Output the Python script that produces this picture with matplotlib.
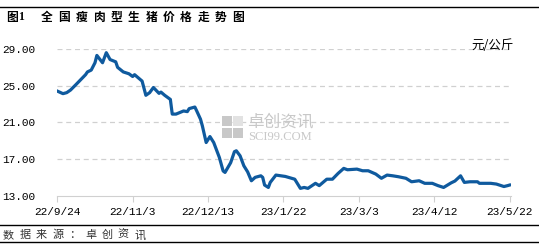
import pandas as pd
import matplotlib
matplotlib.use('Agg')
from matplotlib import pyplot as plt
from matplotlib.patches import Rectangle
from matplotlib.lines import Line2D

plt.rcParams['font.family'] = ['Noto Sans CJK SC', 'DejaVu Sans']

# days after 2022-09-24 and price (元/公斤)
days = [0, 3, 5, 7, 10, 15, 16, 18, 20, 21, 24, 26, 28, 31, 32, 35, 38, 40, 41,
        43, 45, 47, 49, 51, 54, 55, 57, 60, 61, 63, 67, 69, 70, 73, 74, 76, 77,
        79, 81, 83, 86, 88, 89, 92, 94, 95, 97, 99, 101, 103, 105, 108, 109,
        110, 112, 113, 116, 121, 126, 129, 131, 133, 137, 139, 143, 146, 149,
        152, 154, 159, 162, 165, 169, 172, 175, 178, 181, 185, 188, 192, 195,
        199, 202, 205, 209, 211, 214, 216, 219, 223, 224, 230, 233, 237, 239, 240]
price = [24.41, 24.13, 24.24, 24.52, 25.14, 26.2, 26.5, 26.7, 27.5, 28.3, 27.5,
         28.6, 27.85, 27.6, 27.0, 26.5, 26.3, 26.0, 26.2, 25.85, 25.5, 23.95,
         24.24, 24.8, 24.16, 24.3, 23.95, 23.5, 21.9, 21.9, 22.24, 22.17, 22.5,
         22.67, 22.24, 21.34, 20.6, 18.8, 19.45, 18.8, 17.17, 15.7, 15.54, 16.6,
         17.8, 17.9, 17.35, 16.26, 15.6, 14.63, 15.0, 15.17, 15.0, 14.16, 13.9,
         14.45, 15.25, 15.1, 14.8, 13.8, 13.9, 13.8, 14.35, 14.1, 14.8, 14.8,
         15.43, 15.98, 15.83, 15.9, 15.72, 15.72, 15.36, 14.9, 15.25, 15.17,
         15.07, 14.9, 14.52, 14.63, 14.35, 14.35, 14.1, 13.9, 14.4, 14.6, 15.17,
         14.45, 14.52, 14.52, 14.35, 14.35, 14.27, 14.0, 14.1, 14.16]

tick_days = [0, 40, 80, 120, 160, 200, 240]
tick_labels = ['22/9/24', '22/11/3', '22/12/13', '23/1/22', '23/3/3', '23/4/12', '23/5/22']
y_ticks = [13, 17, 21, 25, 29]
y_labels = ['13.00', '17.00', '21.00', '25.00', '29.00']

title = '全国瘦肉型生猪价格走势图'
source = '数据来源：卓创资讯'

W, H = 539, 247
fig = plt.figure(figsize=(W / 100, H / 100), dpi=100)


def fx(px):
    return px / W


def fy(py):
    return 1 - py / H


# frame lines
for y in [7, 225, 242]:
    fig.add_artist(Line2D([0, 1], [fy(y), fy(y)], color='black', lw=1.0))

# title, letter-spaced
fig.text(fx(6), fy(17.5), '图', fontsize=8.5, fontweight='bold', va='center')
fig.text(fx(18.5), fy(17.5), '1', fontsize=8.5, fontweight='bold', va='center',
         family='Liberation Serif')
for i, ch in enumerate(title):
    fig.text(fx(41 + i * 17.4), fy(17.5), ch, fontsize=8.5, fontweight='bold', va='center')

# source line
for i, ch in enumerate(source):
    fig.text(fx(3 + i * 16.4), fy(235), ch, fontsize=8, color='#333333', va='center')

ax = fig.add_axes([fx(57.3), fy(195.7), fx(510.5) - fx(57.3), fy(49) - fy(195.7)])

ax.plot(days, price, color='#0F5A9E', lw=2.3, solid_joinstyle='round', zorder=3)

ax.set_xlim(0, 240.5)
ax.set_ylim(13, 29)
ax.set_xticks(tick_days)
ax.set_xticklabels(tick_labels, family='Liberation Mono', fontsize=8)
ax.set_yticks(y_ticks)
ax.set_yticklabels(y_labels, family='Liberation Mono', fontsize=8)
ax.tick_params(axis='x', length=4, color='#d0d0d0', pad=4)
ax.tick_params(axis='y', length=0, pad=16)
for s in ['top', 'right', 'left']:
    ax.spines[s].set_visible(False)
ax.spines['bottom'].set_color('#d0d0d0')
for v in y_ticks[1:]:
    ax.axhline(v, color='#d0d0d0', lw=0.9, ls=(0, (4, 3)), zorder=1)

# unit label
fig.text(fx(471), fy(45), '元/公斤', fontsize=9, va='center')

# watermark
g = '#c8c8c8'
for (px, py) in [(222, 116), (222, 128), (233, 128)]:
    fig.add_artist(Rectangle((fx(px), fy(py + 10)), fx(10), 10 / H, color=g, lw=0))
fig.add_artist(Rectangle((fx(233), fy(126)), fx(10), 10 / H, color='#e2e2e2', lw=0))
fig.text(fx(247), fy(126), '卓创资讯', fontsize=12, color=g, va='baseline')
fig.text(fx(248), fy(140), 'SCI99.COM', fontsize=9, color=g, va='baseline',
         family='Liberation Serif')

fig.savefig('out.png', dpi=100)
